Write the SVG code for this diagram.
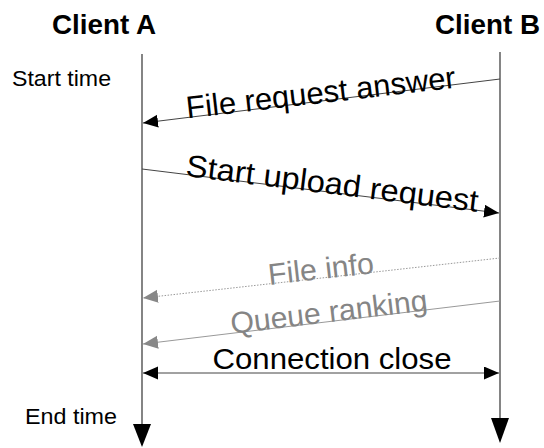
<svg xmlns="http://www.w3.org/2000/svg" width="544" height="448" viewBox="0 0 544 448">
  <style>
    text { font-family: "Liberation Sans", Arial, sans-serif; }
    .title { font-size: 28px; font-weight: bold; fill: #000; }
    .side { font-size: 22px; fill: #000; }
    .msg { font-size: 31px; fill: #000; text-anchor: middle; }
    .msg-gray { font-size: 30px; fill: #858585; text-anchor: middle; }
    .big { font-size: 29px; }
    .life { stroke: #333; stroke-width: 1.2; fill: none; }
    .conn { stroke: #444; stroke-width: 1; fill: none; }
    .conn-gray { stroke: #999; stroke-width: 1; fill: none; }
    .dotted { stroke-dasharray: 1.5 1.5; }
  </style>
  <defs>
    <marker id="arrow" markerUnits="userSpaceOnUse" markerWidth="16" markerHeight="14" refX="15" refY="6.5" orient="auto-start-reverse">
      <path d="M0,0 L15,6.5 L0,13 Z" fill="#000"/>
    </marker>
    <marker id="arrow-gray" markerUnits="userSpaceOnUse" markerWidth="16" markerHeight="14" refX="15" refY="6.5" orient="auto">
      <path d="M0,0 L15,6.5 L0,13 Z" fill="#888"/>
    </marker>
  </defs>

  <!-- participant A -->
  <g id="client-a">
    <text class="title" x="52" y="34" textLength="104" lengthAdjust="spacingAndGlyphs">Client A</text>
    <line class="life" x1="142" y1="54" x2="142" y2="426"/>
    <path d="M133,424 L151,424 L142,447 Z" fill="#000"/>
  </g>

  <!-- participant B -->
  <g id="client-b">
    <text class="title" x="435" y="34" textLength="105" lengthAdjust="spacingAndGlyphs">Client B</text>
    <line class="life" x1="500" y1="52" x2="500" y2="420"/>
    <path d="M491,418 L509,418 L500,443 Z" fill="#000"/>
  </g>

  <!-- time annotations -->
  <g id="time-labels">
    <text class="side" x="12" y="86" textLength="99" lengthAdjust="spacingAndGlyphs">Start time</text>
    <text class="side" x="25" y="424" textLength="92" lengthAdjust="spacingAndGlyphs">End time</text>
  </g>

  <!-- messages -->
  <g id="connectors">
    <line class="conn" x1="500" y1="79" x2="143" y2="123" marker-end="url(#arrow)"/>
    <line class="conn" x1="142" y1="169" x2="499" y2="213" marker-end="url(#arrow)"/>
    <line class="conn-gray dotted" x1="500" y1="258" x2="143" y2="298" marker-end="url(#arrow-gray)"/>
    <line class="conn-gray" x1="500" y1="301" x2="143" y2="344" marker-end="url(#arrow-gray)"/>
    <line class="conn" x1="143" y1="373" x2="499" y2="373" marker-start="url(#arrow)" marker-end="url(#arrow)"/>
  </g>

  <g id="message-labels">
    <text class="msg" transform="translate(322,103) rotate(-6.5)" textLength="271" lengthAdjust="spacingAndGlyphs">File request answer</text>
    <text class="msg" transform="translate(331,194) rotate(7)" textLength="294" lengthAdjust="spacingAndGlyphs">Start upload request</text>
    <text class="msg-gray" transform="translate(322,279) rotate(-6.4)" textLength="106" lengthAdjust="spacingAndGlyphs">File info</text>
    <text class="msg-gray" transform="translate(330,322) rotate(-6.8)" textLength="198" lengthAdjust="spacingAndGlyphs">Queue ranking</text>
    <text class="msg big" x="332" y="369" textLength="239" lengthAdjust="spacingAndGlyphs">Connection close</text>
  </g>
</svg>
